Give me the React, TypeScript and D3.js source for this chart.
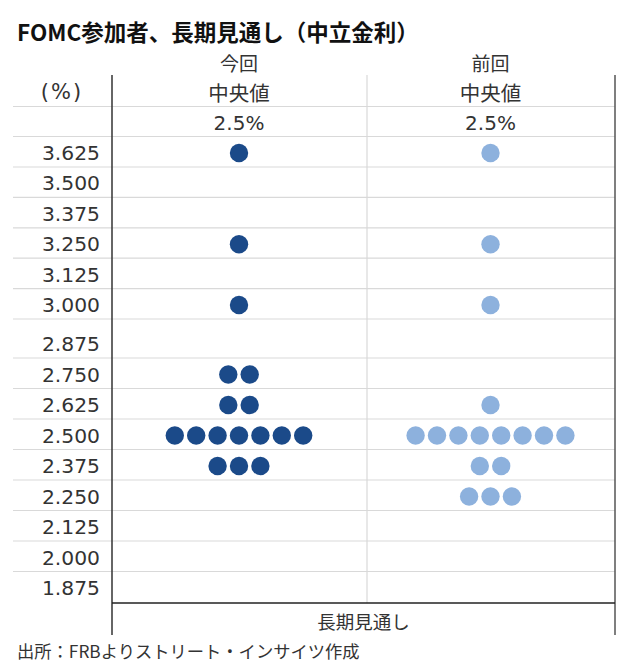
import React from "react";
import * as d3 from "d3";

const title = "FOMC参加者、長期見通し（中立金利）";
const columns = ["今回", "前回"];
const medianLabel = "中央値";
const medians = ["2.5%", "2.5%"];
const rates = [3.625, 3.5, 3.375, 3.25, 3.125, 3.0, 2.875, 2.75, 2.625, 2.5, 2.375, 2.25, 2.125, 2.0, 1.875];
const currentCounts = [1, 0, 0, 1, 0, 1, 0, 2, 2, 7, 3, 0, 0, 0, 0];
const previousCounts = [1, 0, 0, 1, 0, 1, 0, 0, 1, 8, 2, 3, 0, 0, 0];
const unitLabel = "(%)";
const xAxisLabel = "長期見通し";
const source = "出所：FRBよりストリート・インサイツ作成";

const W = 625;
const H = 667;
const colors = ["#1b4a89", "#8db1dd"];
const jp = "'Noto Sans CJK JP', 'Noto Sans', sans-serif";
const num = "'DejaVu Sans', Verdana, sans-serif";

export default function App() {
  // row positions (the 2.875 row is taller in the source table)
  const y = d3.scaleLinear().domain([3.625, 3.0, 2.875, 1.875]).range([153, 305, 344, 588]);
  const x = d3.scalePoint<string>().domain(columns).range([239, 490.5]);
  const left = 112, mid = 367, right = 615;
  const gridX0 = 13;
  const dotR = 9.2;
  const step = 21.4;
  const series = [currentCounts, previousCounts];

  return (
    <svg width={W} height={H} style={{ position: "absolute", left: 0, top: 0, background: "#fff" }}>
      <rect width={W} height={H} fill="#fff" />
      <text x={17} y={31} dominantBaseline="central" fontFamily={jp} fontWeight="bold" fontSize={22.5} fill="#111">
        {title}
      </text>
      {columns.map((c) => (
        <text key={c} x={x(c)} y={62} textAnchor="middle" dominantBaseline="central" fontFamily={jp} fontSize={19} fill="#333">
          {c}
        </text>
      ))}
      <text x={62} y={92} textAnchor="middle" dominantBaseline="central" fontFamily={num} fontSize={21} letterSpacing={2} fill="#333">
        {unitLabel}
      </text>
      {columns.map((c) => (
        <text key={"m" + c} x={x(c)} y={92} textAnchor="middle" dominantBaseline="central" fontFamily={jp} fontSize={20.5} fill="#333">
          {medianLabel}
        </text>
      ))}
      {columns.map((c, i) => (
        <text key={"v" + c} x={x(c)} y={122.5} textAnchor="middle" dominantBaseline="central" fontFamily={num} fontSize={20} fill="#333">
          {medians[i]}
        </text>
      ))}
      {/* header grid lines */}
      <line x1={gridX0} x2={right} y1={106.5} y2={106.5} stroke="#d9d9d9" strokeWidth={1.2} />
      <line x1={gridX0} x2={right} y1={y(3.625) - 16.5} y2={y(3.625) - 16.5} stroke="#d9d9d9" strokeWidth={1.2} />
      {rates.slice(0, -1).map((r) => (
        <line key={"g" + r} x1={gridX0} x2={right} y1={y(r) + 14} y2={y(r) + 14} stroke="#d9d9d9" strokeWidth={1.2} />
      ))}
      {rates.map((r) => (
        <text key={"t" + r} x={100} y={y(r)} textAnchor="end" dominantBaseline="central" fontFamily={num} fontSize={20.3} fill="#333">
          {r.toFixed(3)}
        </text>
      ))}
      {/* vertical lines */}
      <line x1={mid} x2={mid} y1={75} y2={y(1.875) + 15} stroke="#d9d9d9" strokeWidth={1.2} />
      <line x1={left} x2={left} y1={75} y2={635} stroke="#333" strokeWidth={1.5} />
      <line x1={right} x2={right} y1={75} y2={635} stroke="#555" strokeWidth={1.5} />
      <line x1={left} x2={right} y1={y(1.875) + 15} y2={y(1.875) + 15} stroke="#222" strokeWidth={1.5} />
      {/* dots */}
      {series.map((counts, si) =>
        rates.map((r, ri) =>
          d3.range(counts[ri]).map((k) => (
            <circle
              key={`${si}-${ri}-${k}`}
              cx={(x(columns[si]) as number) + (k - (counts[ri] - 1) / 2) * step}
              cy={y(r)}
              r={dotR}
              fill={colors[si]}
            />
          ))
        )
      )}
      <text x={(left + right) / 2} y={621} textAnchor="middle" dominantBaseline="central" fontFamily={jp} fontSize={18.5} fill="#333">
        {xAxisLabel}
      </text>
      <text x={17} y={650} dominantBaseline="central" fontFamily={jp} fontSize={17.3} fill="#333">
        {source}
      </text>
    </svg>
  );
}
